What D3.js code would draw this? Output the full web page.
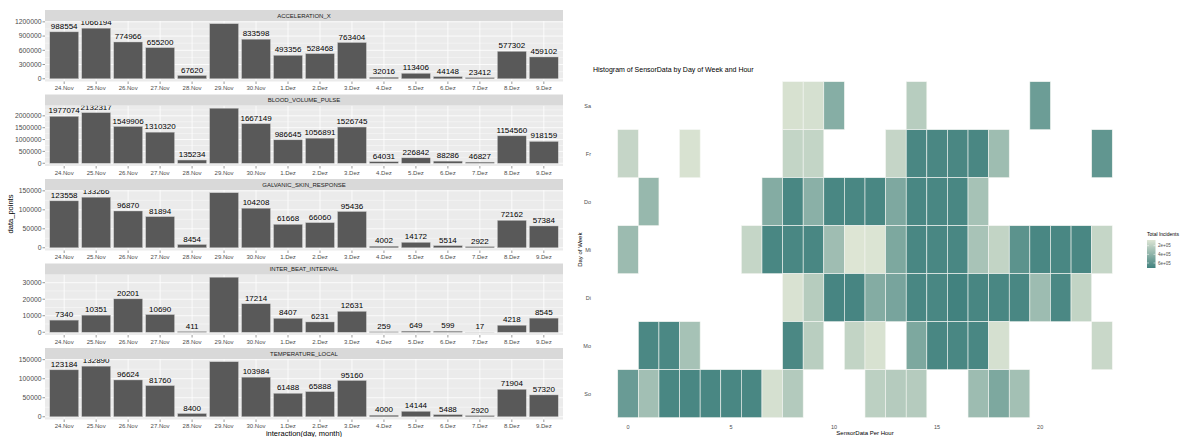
<!DOCTYPE html>
<html><head><meta charset="utf-8">
<script src="https://cdn.jsdelivr.net/npm/d3@7"></script>
<style>body{margin:0;background:#fff}svg{display:block}text{font-family:"Liberation Sans",Arial,Helvetica,sans-serif}</style>
</head><body><svg id="c" width="1185" height="437"></svg>
<script>
// ---------- data: left facet bar chart ----------
const days = ["24.Nov","25.Nov","26.Nov","27.Nov","28.Nov","29.Nov","30.Nov","1.Dez","2.Dez","3.Dez","4.Dez","5.Dez","6.Dez","7.Dez","8.Dez","9.Dez"];
const sensors = ["ACCELERATION_X","BLOOD_VOLUME_PULSE","GALVANIC_SKIN_RESPONSE","INTER_BEAT_INTERVAL","TEMPERATURE_LOCAL"];
const accelerationX = [988554,1066194,774966,655200,67620,1160000,833598,493356,528468,763404,32016,113406,44148,23412,577302,459102];
const bloodVolumePulse = [1977074,2132317,1549906,1310320,135234,2320000,1667149,986645,1056891,1526745,64031,226842,88286,46827,1154560,918159];
const galvanicSkinResponse = [123558,133266,96870,81894,8454,145000,104208,61668,66060,95436,4002,14172,5514,2922,72162,57384];
const interBeatInterval = [7340,10351,20201,10690,411,33300,17214,8407,6231,12631,259,649,599,17,4218,8545];
const temperatureLocal = [123184,132890,96624,81760,8400,144500,103984,61488,65888,95160,4000,14144,5488,2920,71904,57320];
const ticksAcc = [0,300000,600000,900000,1200000];
const ticksBvp = [0,500000,1000000,1500000,2000000];
const ticksGsr = [0,50000,100000,150000];
const ticksIbi = [0,10000,20000,30000];
const ticksTemp = [0,50000,100000,150000];

// ---------- data: right heatmap ----------
const weekdays = ["Sa","Fr","Do","Mi","Di","Mo","So"];
const hours = [0,1,2,3,4,5,6,7,8,9,10,11,12,13,14,15,16,17,18,19,20,21,22,23];
const hourTicks = [0,5,10,15,20];
const legendTicks = [200000,400000,600000];
const rowSa = [null,null,null,null,null,null,null,null,95000,100000,430000,null,null,null,225000,null,null,null,null,null,539000,null,null,null];
const rowFr = [170000,null,null,90000,null,null,null,null,175000,175000,null,null,null,170000,682000,682000,682000,682000,332000,null,null,null,null,586000];
const rowDo = [null,362000,null,null,null,null,null,440000,686000,414000,686000,686000,686000,465000,686000,686000,686000,297000,null,null,null,null,null,null];
const rowMi = [340000,null,null,null,null,null,167000,686000,686000,686000,327000,68000,75000,470000,686000,686000,686000,288000,180000,608000,686000,686000,686000,167000];
const rowDi = [null,null,null,null,null,null,null,null,85000,232000,694000,694000,440000,491000,686000,686000,716000,690000,686000,686000,336000,677000,180000,null];
const rowMo = [null,677000,677000,297000,null,null,null,null,677000,219000,null,180000,90000,null,470000,686000,686000,686000,100000,null,null,null,null,150000];
const rowSo = [552000,314000,686000,686000,686000,686000,686000,100000,245000,null,null,null,206000,236000,236000,null,null,336000,470000,310000,null,null,null,null];

const svg = d3.select("#c");

// ================= LEFT: faceted bars =================
const seriesList = [accelerationX, bloodVolumePulse, galvanicSkinResponse, interBeatInterval, temperatureLocal];
const tickList = [ticksAcc, ticksBvp, ticksGsr, ticksIbi, ticksTemp];
const L = {left:45, right:563, top0:10, step:84.5, strip:11, plotH:60.5};
const x = d3.scaleLinear().domain([-0.6, days.length - 0.4]).range([L.left, L.right]);
const unit = x(1) - x(0);

sensors.forEach((name, i) => {
  const vals = seriesList[i];
  const ticks = tickList[i];
  const sTop = L.top0 + L.step * i;
  const pTop = sTop + L.strip;
  const pBot = pTop + L.plotH;
  const mx = d3.max(vals);
  const y = d3.scaleLinear().domain([-0.05 * mx, 1.05 * mx]).range([pBot, pTop]);
  const g = svg.append("g");
  // panel background
  g.append("rect").attr("x", L.left).attr("y", pTop).attr("width", L.right - L.left).attr("height", pBot - pTop).attr("fill", "#EBEBEB");
  // minor gridlines
  const minor = [];
  for (let k = 0; k < ticks.length - 1; k++) minor.push((ticks[k] + ticks[k + 1]) / 2);
  if (y(ticks[ticks.length - 1] + (ticks[1] - ticks[0]) / 2) > pTop) minor.push(ticks[ticks.length - 1] + (ticks[1] - ticks[0]) / 2);
  g.selectAll(".mn").data(minor).enter().append("line")
    .attr("x1", L.left).attr("x2", L.right).attr("y1", d => y(d)).attr("y2", d => y(d))
    .attr("stroke", "#fff").attr("stroke-width", 0.4);
  g.selectAll(".mj").data(ticks).enter().append("line")
    .attr("x1", L.left).attr("x2", L.right).attr("y1", d => y(d)).attr("y2", d => y(d))
    .attr("stroke", "#fff").attr("stroke-width", 0.8);
  g.selectAll(".vx").data(days).enter().append("line")
    .attr("x1", (d, j) => x(j)).attr("x2", (d, j) => x(j)).attr("y1", pTop).attr("y2", pBot)
    .attr("stroke", "#fff").attr("stroke-width", 0.8);
  // clip
  const cid = "clip" + i;
  svg.append("clipPath").attr("id", cid).append("rect")
    .attr("x", L.left).attr("y", pTop).attr("width", L.right - L.left).attr("height", pBot - pTop);
  const cg = g.append("g").attr("clip-path", `url(#${cid})`);
  cg.selectAll("rect.bar").data(vals).enter().append("rect").attr("class", "bar")
    .attr("x", (d, j) => x(j - 0.45)).attr("width", unit * 0.9)
    .attr("y", d => y(d)).attr("height", d => y(0) - y(d))
    .attr("fill", "#595959").attr("stroke", "#c8c8c8").attr("stroke-width", 0.4);
  cg.selectAll("text.val").data(vals).enter().append("text").attr("class", "val")
    .attr("x", (d, j) => x(j)).attr("y", d => y(d) - 3)
    .attr("text-anchor", "middle").attr("font-size", 8).attr("fill", "#000")
    .text(d => d);
  // strip
  g.append("rect").attr("x", L.left).attr("y", sTop).attr("width", L.right - L.left).attr("height", L.strip).attr("fill", "#D9D9D9");
  g.append("text").attr("x", (L.left + L.right) / 2).attr("y", sTop + L.strip / 2 + 2.1)
    .attr("text-anchor", "middle").attr("font-size", 6).attr("fill", "#1A1A1A").text(name);
  // y axis
  g.selectAll(".yt").data(ticks).enter().append("line")
    .attr("x1", L.left - 2.5).attr("x2", L.left).attr("y1", d => y(d)).attr("y2", d => y(d))
    .attr("stroke", "#333").attr("stroke-width", 0.5);
  g.selectAll(".yl").data(ticks).enter().append("text")
    .attr("x", L.left - 3.5).attr("y", d => y(d) + 2.4).attr("text-anchor", "end")
    .attr("font-size", 6.8).attr("fill", "#4D4D4D").text(d => d);
  // x axis
  g.selectAll(".xt").data(days).enter().append("line")
    .attr("x1", (d, j) => x(j)).attr("x2", (d, j) => x(j)).attr("y1", pBot).attr("y2", pBot + 2.5)
    .attr("stroke", "#333").attr("stroke-width", 0.5);
  g.selectAll(".xl").data(days).enter().append("text")
    .attr("x", (d, j) => x(j)).attr("y", pBot + 8.5).attr("text-anchor", "middle")
    .attr("font-size", 6).attr("fill", "#4D4D4D").text(d => d);
});
svg.append("text").attr("transform", "translate(13,214) rotate(-90)").attr("text-anchor", "middle")
  .attr("font-size", 7.5).attr("fill", "#000").text("data_points");
svg.append("text").attr("x", 304).attr("y", 436).attr("text-anchor", "middle")
  .attr("font-size", 7.5).attr("fill", "#000").text("interaction(day, month)");

// ================= RIGHT: heatmap =================
const rows = [rowSa, rowFr, rowDo, rowMi, rowDi, rowMo, rowSo];
const hx = d3.scaleLinear().domain([-1.7, 24.7]).range([593, 1137]);
const hy = d3.scaleBand().domain(weekdays).range([81.7, 417.7]);
const allVals = rows.flat().filter(v => v != null);
const vmin = d3.min(allVals), vmax = d3.max(allVals);
const color = d3.scaleLinear().domain([vmin, vmax]).range(["#dde5d4", "#42827f"]);
const cw = hx(1) - hx(0);

svg.append("text").attr("x", 593).attr("y", 72).attr("font-size", 7).attr("fill", "#000")
  .text("Histogram of SensorData by Day of Week and Hour");

const hg = svg.append("g");
rows.forEach((row, r) => {
  hg.selectAll(null).data(row.map((v, h) => ({v, h: hours[h]})).filter(d => d.v != null)).enter().append("rect")
    .attr("x", d => hx(d.h - 0.5)).attr("width", cw)
    .attr("y", hy(weekdays[r])).attr("height", hy.bandwidth())
    .attr("fill", d => color(d.v)).attr("stroke", "#f4f6f2").attr("stroke-width", 0.6);
});
svg.selectAll(".wl").data(weekdays).enter().append("text")
  .attr("x", 591).attr("y", d => hy(d) + hy.bandwidth() / 2 + 2).attr("text-anchor", "end")
  .attr("font-size", 5.5).attr("fill", "#4D4D4D").text(d => d);
svg.selectAll(".hl").data(hourTicks).enter().append("text")
  .attr("x", d => hx(d)).attr("y", 429).attr("text-anchor", "middle")
  .attr("font-size", 5.5).attr("fill", "#4D4D4D").text(d => d);
svg.append("text").attr("transform", "translate(582,249.7) rotate(-90)").attr("text-anchor", "middle")
  .attr("font-size", 6).attr("fill", "#000").text("Day of Week");
svg.append("text").attr("x", 865).attr("y", 435).attr("text-anchor", "middle")
  .attr("font-size", 6).attr("fill", "#000").text("SensorData Per Hour");

// legend colourbar
const defs = svg.append("defs");
const grad = defs.append("linearGradient").attr("id", "lg").attr("x1", 0).attr("x2", 0).attr("y1", 0).attr("y2", 1);
[0, 0.25, 0.5, 0.75, 1].forEach(t => grad.append("stop").attr("offset", t).attr("stop-color", color(vmin + t * (vmax - vmin))));
const ly = d3.scaleLinear().domain([vmin, vmax]).range([240, 268]);
svg.append("text").attr("x", 1147).attr("y", 236).attr("font-size", 5).attr("fill", "#000").text("Total Incidents");
svg.append("rect").attr("x", 1147).attr("y", 240).attr("width", 8.5).attr("height", 28).attr("fill", "url(#lg)");
svg.selectAll(".lt").data(legendTicks).enter().append("line")
  .attr("x1", 1147).attr("x2", 1149).attr("y1", d => ly(d)).attr("y2", d => ly(d)).attr("stroke", "#fff").attr("stroke-width", 0.5);
svg.selectAll(".lt2").data(legendTicks).enter().append("line")
  .attr("x1", 1153.5).attr("x2", 1155.5).attr("y1", d => ly(d)).attr("y2", d => ly(d)).attr("stroke", "#fff").attr("stroke-width", 0.5);
svg.selectAll(".ll").data(legendTicks).enter().append("text")
  .attr("x", 1158).attr("y", d => ly(d) + 1.6).attr("font-size", 4.5).attr("fill", "#4D4D4D")
  .text(d => (d / 100000) + "e+05");
</script></body></html>
